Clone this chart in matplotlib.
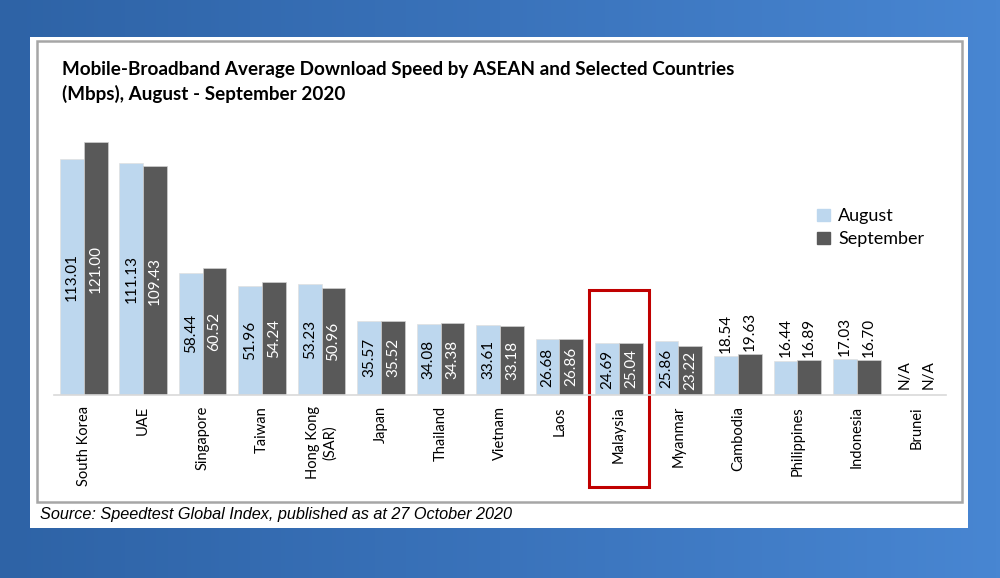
import numpy as np
import matplotlib
matplotlib.use('Agg')
import matplotlib.pyplot as plt
from matplotlib.patches import Rectangle, Patch

# data
countries = ['South Korea', 'UAE', 'Singapore', 'Taiwan', 'Hong Kong\n(SAR)', 'Japan',
             'Thailand', 'Vietnam', 'Laos', 'Malaysia', 'Myanmar', 'Cambodia',
             'Philippines', 'Indonesia', 'Brunei']
august = [113.01, 111.13, 58.44, 51.96, 53.23, 35.57, 34.08, 33.61, 26.68, 24.69,
          25.86, 18.54, 16.44, 17.03, np.nan]
september = [121.00, 109.43, 60.52, 54.24, 50.96, 35.52, 34.38, 33.18, 26.86, 25.04,
             23.22, 19.63, 16.89, 16.70, np.nan]
highlight = 'Malaysia'

c_aug = '#bdd7ee'
c_sep = '#595959'
font = 'Lato'

fig = plt.figure(figsize=(10, 5.78), dpi=100)

# blue background + white panel
bg = fig.add_axes([0, 0, 1, 1])
grad = np.linspace(0, 1, 256)[None, :]
cmap = matplotlib.colors.LinearSegmentedColormap.from_list('bg', ['#2e63a6', '#3a73bb', '#4886d2'])
bg.imshow(grad, aspect='auto', cmap=cmap, extent=[0, 1, 0, 1])
bg.add_patch(Rectangle((0.03, 0.0865), 0.938, 0.8495, facecolor='white', edgecolor='none'))
bg.add_patch(Rectangle((0.037, 0.1315), 0.925, 0.7976, facecolor='white',
                       edgecolor='#a6a6a6', lw=1.8))
bg.set_xlim(0, 1)
bg.set_ylim(0, 1)
bg.axis('off')

fig.text(0.062, 0.858, 'Mobile-Broadband Average Download Speed by ASEAN and Selected Countries\n(Mbps), August - September 2020',
         fontsize=13.6, fontweight='bold', family=font, va='center', ha='left', linespacing=1.42)
fig.text(0.040, 0.110, 'Source: Speedtest Global Index, published as at 27 October 2020',
         fontsize=11.7, style='italic', family='Liberation Sans', va='center', ha='left')

ax = fig.add_axes([0.054, 0.3166, 0.892, 0.510])
ax.set_facecolor('none')
x = np.arange(len(countries))
w = 0.4
aug = np.array(august)
sep = np.array(september)
ax.bar(x - w / 2, np.nan_to_num(aug), w, color=c_aug, edgecolor='#e0e0e0', lw=0.5, label='August')
ax.bar(x + w / 2, np.nan_to_num(sep), w, color=c_sep, edgecolor='#d0d0d0', lw=0.5, label='September')

ax.set_xlim(-0.5, len(countries) - 0.5)
ax.set_ylim(0, 141)

# value labels
for xs, vals, col in [(x - w / 2, aug, 'black'), (x + w / 2, sep, 'white')]:
    for xi, v in zip(xs, vals):
        if np.isnan(v):
            ax.text(xi, 3, 'N/A', rotation=90, ha='center', va='bottom', fontsize=11,
                    family=font, color='black')
        elif v > 22:
            ax.text(xi, v / 2, f'{v:.2f}', rotation=90, ha='center', va='center', fontsize=11,
                    family=font, color=col)
        else:
            ax.text(xi, v + 1.5, f'{v:.2f}', rotation=90, ha='center', va='bottom', fontsize=11,
                    family=font, color='black')

for s in ['top', 'left', 'right']:
    ax.spines[s].set_visible(False)
ax.spines['bottom'].set_color('#d9d9d9')
ax.spines['bottom'].set_linewidth(1.2)
ax.set_yticks([])
ax.set_xticks(x)
ax.set_xticklabels(countries, rotation=90, fontsize=10.5, family=font, ha='center', va='top')
ax.tick_params(axis='x', length=0, pad=8)

# highlight box
i = countries.index(highlight)
ax.add_patch(Rectangle((i - 0.5, -44), 1.0, 94, fill=False, edgecolor='#c00000', lw=2.2,
                       clip_on=False))

handles = [Patch(color=c_aug), Patch(color=c_sep)]
fig.legend(handles, ['August', 'September'], loc='upper left', bbox_to_anchor=(0.801, 0.668),
           frameon=False, prop={'family': font, 'size': 13}, handlelength=0.7, handleheight=0.7,
           handletextpad=0.45, labelspacing=0.4)

fig.savefig('out.png', dpi=100)
